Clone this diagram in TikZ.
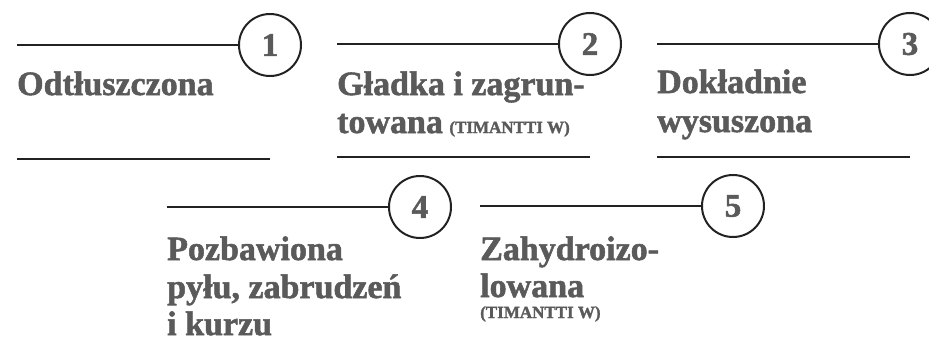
\documentclass[tikz,border=0pt]{standalone}
\usepackage{fontspec}
\setmainfont{Liberation Serif}
\newfontfamily\heavy[FakeBold=1.6]{Liberation Serif Bold}
\definecolor{txt}{HTML}{5A5A5A}
\definecolor{ln}{HTML}{222222}
\tikzset{
  num/.style={circle, draw=ln, line width=2pt, minimum size=62pt, inner sep=0pt, text=txt, font=\fontsize{33}{33}\selectfont\heavy},
  rule/.style={draw=ln, line width=2.4pt},
  big/.style={anchor=base west, inner sep=0pt, text=txt, font=\fontsize{34}{34}\selectfont\heavy},
  sm/.style={anchor=base west, inner sep=0pt, text=txt, font=\fontsize{17}{17}\selectfont\heavy},
}
\begin{document}
\begin{tikzpicture}[x=1pt,y=-1pt]
\useasboundingbox (0,0) rectangle (929,354);
% item 1
\node[num] (c1) at (270,45) {1};
\coordinate (a1) at (17,45);
\draw[rule] (a1) -- (c1.west);
\node[big] (t1) at (17,95) {Odtłuszczona};
\coordinate (b1s) at (17,159); \coordinate (b1e) at (270,159);
\draw[rule] (b1s) -- (b1e);
% item 2
\node[num] (c2) at (590,44) {2};
\coordinate (a2) at (337,44);
\draw[rule] (a2) -- (c2.west);
\node[big] (t2a) at (337,95) {Gładka i zagrun-};
\node[big] (t2b) at (337,133) {towana};
\node[sm] (t2c) at ([xshift=6pt]t2b.base east) {(TIMANTTI W)};
\coordinate (b2s) at (337,157); \coordinate (b2e) at (590,157);
\draw[rule] (b2s) -- (b2e);
% item 3
\node[num] (c3) at (910,44) {3};
\coordinate (a3) at (657,44);
\draw[rule] (a3) -- (c3.west);
\node[big] (t3a) at (657,93) {Dokładnie};
\node[big] (t3b) at (657,132) {wysuszona};
\coordinate (b3s) at (657,157); \coordinate (b3e) at (910,157);
\draw[rule] (b3s) -- (b3e);
% item 4
\node[num] (c4) at (420,207) {4};
\coordinate (a4) at (167,207);
\draw[rule] (a4) -- (c4.west);
\node[big] (t4a) at (167,260) {Pozbawiona};
\node[big] (t4b) at (167,298) {pyłu, zabrudzeń};
\node[big] (t4c) at (167,335) {i kurzu};
% item 5
\node[num] (c5) at (733,206) {5};
\coordinate (a5) at (480,206);
\draw[rule] (a5) -- (c5.west);
\node[big] (t5a) at (480,260) {Zahydroizo-};
\node[big] (t5b) at (480,297) {lowana};
\node[sm] (t5c) at (480,318) {(TIMANTTI W)};
\end{tikzpicture}
\end{document}
